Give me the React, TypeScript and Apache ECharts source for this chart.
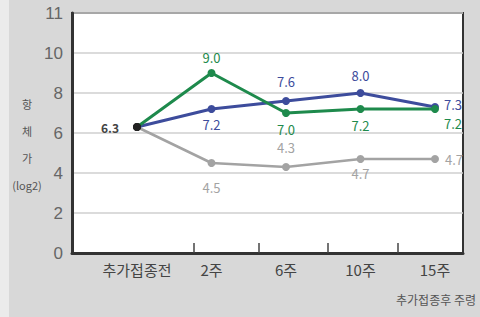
import React, { useEffect, useRef } from "react";
import * as echarts from "echarts";

const categories = ["추가접종전", "2주", "6주", "10주", "15주"];
const blueValues = [6.3, 7.2, 7.6, 8.0, 7.3];
const greenValues = [6.3, 9.0, 7.0, 7.2, 7.2];
const greyValues = [6.3, 4.5, 4.3, 4.7, 4.7];
const yTickLabels: Record<number, string> = { 0: "0", 2: "2", 4: "4", 6: "6", 8: "8", 10: "10", 12: "11" };
const yName = ["항", "체", "가", "(log2)"];
const xName = "추가접종후 주령";

const FONT = "'Noto Sans CJK KR', 'Noto Sans', sans-serif";
const BLUE = "#3d4c9c";
const GREEN = "#1e8a4c";
const GREY = "#a3a3a3";

type LabelCfg = { position: string; offset?: number[]; distance?: number } | null;

const blueLabels: LabelCfg[] = [null, { position: "bottom" }, { position: "top", distance: 9 }, { position: "top", distance: 7 }, { position: "right", offset: [0, -3] }];
const greenLabels: LabelCfg[] = [null, { position: "top", distance: 5 }, { position: "bottom", distance: 6 }, { position: "bottom", distance: 6 }, { position: "right", offset: [0, 14] }];
const greyLabels: LabelCfg[] = [
  { position: "left", distance: 14 },
  { position: "bottom", distance: 14 },
  { position: "top", distance: 9 },
  { position: "bottom", distance: 4 },
  { position: "right", distance: 6 },
];

// decorative divider ticks on the bottom frame (pixel x positions)
const dividerTickX = [194, 259, 328, 398];

function buildData(values: number[], labels: LabelCfg[], color: string) {
  return values.map((v, i) => {
    const l = labels[i];
    const item: any = { value: v };
    if (i === 0) item.itemStyle = { color: "#222" };
    if (l) {
      item.label = {
        show: true,
        position: l.position,
        distance: l.distance ?? 5,
        offset: l.offset,
        color: i === 0 ? "#444" : color,
        fontWeight: i === 0 ? "bold" : "normal",
        fontSize: i === 0 ? 12 : 13,
        formatter: (p: any) => Number(p.value).toFixed(1),
      };
    } else {
      item.label = { show: false };
    }
    return item;
  });
}

export default function App() {
  const ref = useRef<HTMLDivElement>(null);
  useEffect(() => {
    if (!ref.current) return;
    const chart = echarts.init(ref.current, undefined, { renderer: "svg" });
    const top = 13;
    const bottom = 64;
    const axisY = 317 - bottom;
    const seriesCommon = {
      type: "line",
      xAxisIndex: 1,
      yAxisIndex: 1,
      symbol: "circle",
      symbolSize: 8,
      z: 5,
      label: { fontSize: 13, fontFamily: FONT },
    };
    chart.setOption({
      animation: false,
      backgroundColor: "#d8d8d8",
      textStyle: { fontFamily: FONT },
      grid: [
        { left: 72, right: 17, top, bottom, show: true, backgroundColor: "#ffffff", borderColor: "#333", borderWidth: 2 },
        { left: 137, right: 45, top, bottom },
      ],
      xAxis: [
        {
          gridIndex: 0, type: "value", min: 0, max: 1,
          axisLine: { show: true, lineStyle: { color: "#333", width: 3 } },
          axisTick: { show: false }, axisLabel: { show: false }, splitLine: { show: false },
        },
        {
          gridIndex: 1, type: "category", data: categories, boundaryGap: false,
          axisLine: { show: false }, axisTick: { show: false },
          axisLabel: { color: "#444", fontSize: 15, margin: 9, interval: 0, fontFamily: FONT },
        },
      ],
      yAxis: [
        {
          gridIndex: 0, type: "value", min: 0, max: 12, interval: 2,
          axisLine: { show: true, lineStyle: { color: "#333", width: 3 } },
          axisTick: { show: false },
          axisLabel: { color: "#666", fontSize: 17, margin: 9, fontFamily: "'Liberation Sans', sans-serif", formatter: (v: number) => yTickLabels[v] ?? "" },
          splitLine: { show: true, lineStyle: { color: "#cfcfcf", width: 1.5 } },
        },
        { gridIndex: 1, type: "value", min: 0, max: 12, show: false },
      ],
      series: [
        { ...seriesCommon, name: "grey", data: buildData(greyValues, greyLabels, GREY), lineStyle: { color: GREY, width: 2.5 }, itemStyle: { color: GREY } },
        { ...seriesCommon, name: "blue", data: buildData(blueValues, blueLabels, BLUE), lineStyle: { color: BLUE, width: 3 }, itemStyle: { color: BLUE } },
        { ...seriesCommon, name: "green", data: buildData(greenValues, greenLabels, GREEN), lineStyle: { color: GREEN, width: 3 }, itemStyle: { color: GREEN } },
      ],
      graphic: [
        { type: "rect", left: 0, top: 0, shape: { width: 9, height: 317 }, style: { fill: "#ebebeb" }, z: -1 },
        ...dividerTickX.map((x) => ({
          type: "line",
          shape: { x1: x, y1: axisY - 10, x2: x, y2: axisY },
          style: { stroke: "#444", lineWidth: 1.5 },
          z: 10,
        })),
        {
          type: "text", x: 27, y: 90,
          style: { text: yName.join("\n"), fontSize: 11, lineHeight: 27, align: "center", fill: "#555", fontFamily: FONT },
        },
        {
          type: "text", x: 476, y: 293,
          style: { text: xName, fontSize: 12, align: "right", fill: "#555", fontFamily: FONT },
        },
      ],
    });
    return () => chart.dispose();
  }, []);
  return <div ref={ref} style={{ position: "absolute", left: 0, top: 0, width: 480, height: 317 }} />;
}
